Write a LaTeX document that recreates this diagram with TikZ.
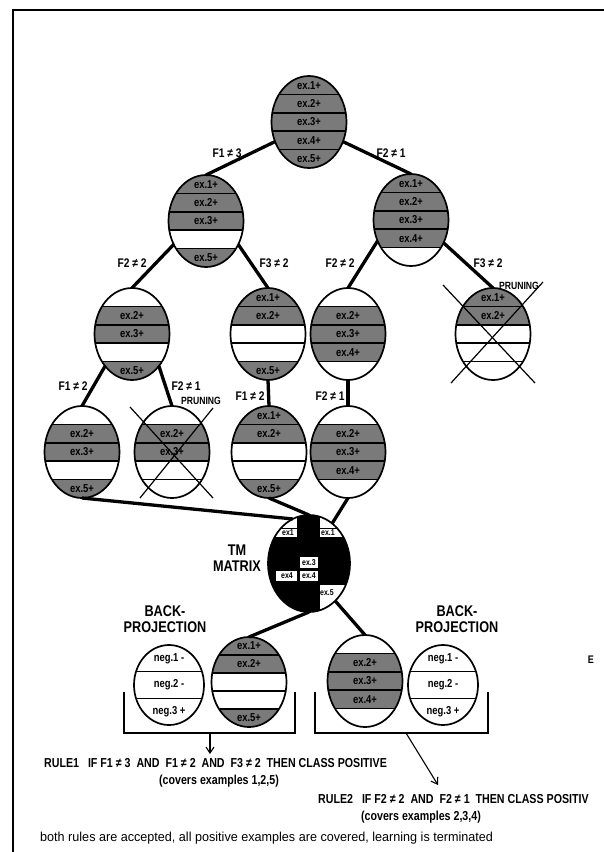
\documentclass[tikz,border=0pt]{standalone}
\usepackage{fontspec}
\setmainfont{Liberation Sans}[FakeStretch=0.82]
\newfontfamily\regfont{Liberation Sans}[FakeStretch=0.97]
\usetikzlibrary{shapes.geometric,arrows.meta}
\colorlet{bandgray}{black!52}
\tikzset{
  lab/.style={font=\bfseries\fontsize{11.5}{11.5}\selectfont, inner sep=0pt},
  flab/.style={font=\bfseries\fontsize{12.5}{12.5}\selectfont, inner sep=0pt},
  prun/.style={font=\bfseries\fontsize{10.5}{10.5}\selectfont, inner sep=0pt},
  bigl/.style={font=\bfseries\fontsize{15.5}{16.5}\selectfont, inner sep=0pt, align=center},
  rulet/.style={font=\bfseries\fontsize{13}{13}\selectfont, inner sep=0pt},
  tml/.style={font=\bfseries\fontsize{8.5}{8.5}\selectfont, inner sep=0pt},
  outl/.style={line width=1.7pt},
  sepl/.style={line width=1.6pt},
  edge/.style={line width=3.3pt},
  crossl/.style={line width=1.2pt},
  thinl/.style={line width=1.1pt},
  arr/.style={line width=1.1pt, -{Straight Barb[length=6pt,width=8pt]}},
}
\newcommand\bandell[7]{%
  \node[ellipse, minimum width=#4pt, minimum height=#5pt, inner sep=0pt, outer sep=0pt] (#1) at (#2,#3) {};
  \begin{scope}
    \clip (#2,#3) ellipse [x radius=#4/2, y radius=#5/2];
    \foreach \f/\t [count=\i] in {#7} {
      \pgfmathsetmacro\ya{#3-#5/2+(\i-1)*#5/#6}
      \pgfmathsetmacro\yb{#3-#5/2+\i*#5/#6}
      \fill[\f] (#2-#4/2-1,\ya) rectangle (#2+#4/2+1,\yb);
      \ifnum\i>1 \draw[sepl] (#2-#4/2-1,\ya) -- (#2+#4/2+1,\ya);\fi
      \node[lab] (#1-\i) at (#2,{(\ya+\yb)/2}) {\t};
    }
  \end{scope}
  \draw[outl] (#2,#3) ellipse [x radius=#4/2, y radius=#5/2];
}
\begin{document}
\begin{tikzpicture}[x=1pt,y=-1pt]
\useasboundingbox (0,0) rectangle (604,852);
\fill[white] (0,0) rectangle (604,852);
% frame
\draw[line width=1.8pt] (13,852) -- (13,10) -- (604,10);

% tree ellipses
\bandell{root}{309}{122}{75}{92}{5}{bandgray/ex.1+, bandgray/ex.2+, bandgray/ex.3+, bandgray/ex.4+, bandgray/ex.5+}
\bandell{L1}{206}{221}{75}{92}{5}{bandgray/ex.1+, bandgray/ex.2+, bandgray/ex.3+, white/, bandgray/ex.5+}
\bandell{R1}{411}{220}{75}{92}{5}{bandgray/ex.1+, bandgray/ex.2+, bandgray/ex.3+, bandgray/ex.4+, white/}
\bandell{LL}{132}{334}{75}{92}{5}{white/, bandgray/ex.2+, bandgray/ex.3+, white/, bandgray/ex.5+}
\bandell{LR}{268}{334}{75}{92}{5}{bandgray/ex.1+, bandgray/ex.2+, white/, white/, bandgray/ex.5+}
\bandell{RL}{348}{334}{75}{92}{5}{white/, bandgray/ex.2+, bandgray/ex.3+, bandgray/ex.4+, white/}
\bandell{RR}{493}{334}{75}{92}{5}{bandgray/ex.1+, bandgray/ex.2+, white/, white/, white/}
\bandell{LLL}{82}{452}{75}{92}{5}{white/, bandgray/ex.2+, bandgray/ex.3+, white/, bandgray/ex.5+}
\bandell{LLR}{172}{452}{75}{92}{5}{white/, bandgray/ex.2+, bandgray/ex.3+, white/, white/}
\bandell{LRL}{269}{452}{75}{92}{5}{bandgray/ex.1+, bandgray/ex.2+, white/, white/, bandgray/ex.5+}
\bandell{RLL}{348}{452}{75}{92}{5}{white/, bandgray/ex.2+, bandgray/ex.3+, bandgray/ex.4+, white/}

% bottom ellipses
\bandell{NL}{169}{685}{70}{80}{3}{white/neg.1 -, white/neg.2 -, white/neg.3 +}
\bandell{BL}{249}{682}{75}{90}{5}{bandgray/ex.1+, bandgray/ex.2+, white/, white/, bandgray/ex.5+}
\bandell{BR}{365}{681}{75}{92}{5}{white/, bandgray/ex.2+, bandgray/ex.3+, bandgray/ex.4+, white/}
\bandell{NR}{443}{685}{70}{80}{3}{white/neg.1 -, white/neg.2 -, white/neg.3 +}

% TM matrix
\node[ellipse, minimum width=82pt, minimum height=97pt, inner sep=0pt, outer sep=0pt] (TM) at (309,563.5) {};
\begin{scope}
  \clip (309,563.5) ellipse [x radius=41, y radius=48.5];
  \fill[black] (266,513) rectangle (352,614);
  \fill[white] (266,513) rectangle (297,537);
  \fill[white] (320,513) rectangle (352,537);
  \fill[white] (300,557) rectangle (318,568);
  \fill[white] (276,571) rectangle (297,581);
  \fill[white] (300,571) rectangle (318,581);
  \fill[white] (320,585) rectangle (352,614);
  \draw[line width=0.8pt] (266,528) -- (297,528) (320,528) -- (352,528);
\end{scope}
\draw[outl] (309,563.5) ellipse [x radius=41, y radius=48.5];
\node[tml] (tm1) at (288,532.5) {ex1};
\node[tml] (tm2) at (328,532.5) {ex.1};
\node[tml] (tm3) at (309,562.5) {ex.3};
\node[tml] (tm4) at (287,576) {ex4};
\node[tml] (tm5) at (309,576) {ex.4};
\node[tml] (tm6) at (327,593) {ex.5};

% edges
\draw[edge] (root.210) -- (L1.north);
\draw[edge] (root.330) -- (R1.north);
\draw[edge] (L1.216) -- (LL.north);
\draw[edge] (L1.324) -- (LR.north);
\draw[edge] (R1.212) -- (RL.north);
\draw[edge] (R1.325) -- (RR.north);
\draw[edge] (LL.230) -- (LLL.north);
\draw[edge] (LL.310) -- (LLR.north);
\draw[edge] (LR.south) -- (LRL.north);
\draw[edge] (RL.south) -- (RLL.north);
\draw[edge] (LLL.south) -- (TM.110);
\draw[edge] (LRL.south) -- (TM.north);
\draw[edge] (RLL.south) -- (TM.60);
\draw[edge] (TM.south) -- (BL.north);
\draw[edge] (TM.305) -- (BR.north);

% pruning crosses
\draw[crossl] ([shift={(-42,-45)}]LLR.center) -- ([shift={(41,46)}]LLR.center);
\draw[crossl] ([shift={(41,-44)}]LLR.center) -- ([shift={(-32,46)}]LLR.center);
\draw[crossl] ([shift={(-50,-49)}]RR.center) -- ([shift={(42,49)}]RR.center);
\draw[crossl] ([shift={(50,-52)}]RR.center) -- ([shift={(-42,49)}]RR.center);

% edge labels
\node[flab] (e1) at (227,153) {F1 ≠ 3};
\node[flab] (e2) at (391,153) {F2 ≠ 1};
\node[flab] (e3) at (132,263) {F2 ≠ 2};
\node[flab] (e4) at (274,263) {F3 ≠ 2};
\node[flab] (e5) at (340,263) {F2 ≠ 2};
\node[flab] (e6) at (488,263) {F3 ≠ 2};
\node[flab] (e7) at (73,386) {F1 ≠ 2};
\node[flab] (e8) at (186,386) {F2 ≠ 1};
\node[flab] (e9) at (250,396) {F1 ≠ 2};
\node[flab] (e10) at (330,396) {F2 ≠ 1};
\node[prun] (p1) at (519,286) {PRUNING};
\node[prun] (p2) at (201,401) {PRUNING};

% side labels
\node[bigl] (tmt) at (237,558) {TM\\MATRIX};
\node[bigl] (bp1) at (165,619) {BACK-\\PROJECTION};
\node[bigl] (bp2) at (457,619) {BACK-\\PROJECTION};
\node[font=\bfseries\fontsize{11}{11}\selectfont, inner sep=0pt] (stray) at (591,660) {E};

% brackets and arrows
\coordinate (lb1) at (124,692); \coordinate (lb2) at (124,733);
\coordinate (lb3) at (295,733); \coordinate (lb4) at (295,692);
\coordinate (rb1) at (315,692); \coordinate (rb2) at (315,733);
\coordinate (rb3) at (488,733); \coordinate (rb4) at (488,692);
\draw[thinl] (lb1) -- (lb2) -- (lb3) -- (lb4);
\draw[thinl] (rb1) -- (rb2) -- (rb3) -- (rb4);
\coordinate (la1) at (210,733); \coordinate (la2) at (210,754);
\coordinate (ra1) at (406,733); \coordinate (ra2) at (438,785);
\draw[arr] (la1) -- (la2);
\draw[arr] (ra1) -- (ra2);

% rule texts
\node[rulet, anchor=west] (r1) at (44,763) {RULE1\ \ \ IF F1 ≠ 3\ \ AND\ \ F1 ≠ 2\ \ AND\ \ F3 ≠ 2\ \ THEN CLASS POSITIVE};
\node[rulet] (c1) at (219,781) {(covers examples 1,2,5)};
\node[rulet, anchor=west] (r2) at (318,799) {RULE2\ \ \ IF F2 ≠ 2\ \ AND\ \ F2 ≠ 1\ \ THEN CLASS POSITIV};
\node[rulet] (c2) at (421,817) {(covers examples 2,3,4)};
\node[font=\regfont\fontsize{13}{13}\selectfont, inner sep=0pt, anchor=west] (fin) at (40,838) {both rules are accepted, all positive examples are covered, learning is terminated};
\end{tikzpicture}
\end{document}
